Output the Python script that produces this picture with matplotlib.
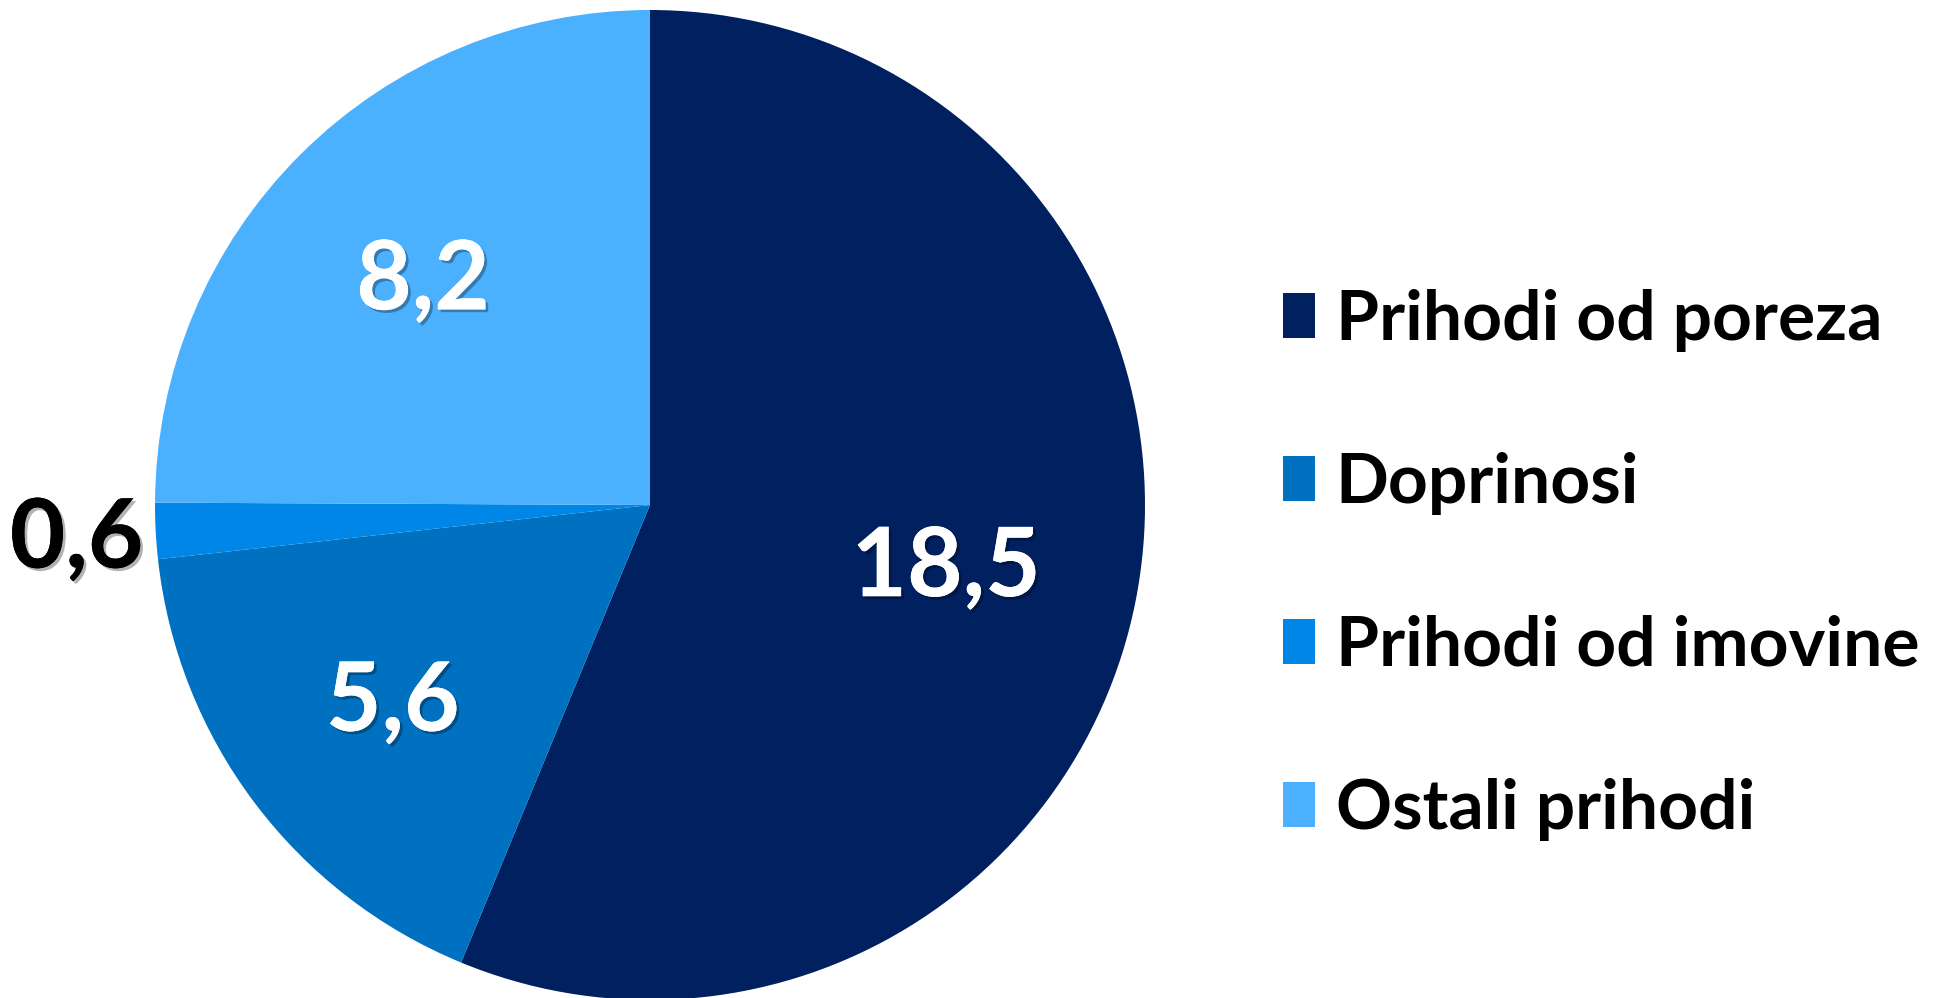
import numpy as np
import matplotlib
matplotlib.use("Agg")
import matplotlib.pyplot as plt
import matplotlib.patheffects as pe

# ---------------------------------------------------------------------------
# Data
# ---------------------------------------------------------------------------
categories = ["Prihodi od poreza", "Doprinosi", "Prihodi od imovine", "Ostali prihodi"]
values = [18.5, 5.6, 0.6, 8.2]
value_labels = ["18,5", "5,6", "0,6", "8,2"]
colors = ["#002060", "#0070C0", "#0086E6", "#4BB1FF"]

# label placement (fraction of radius) and text colour per slice
label_dist = [0.61, 0.65, 1.16, 0.65]
label_colors = ["white", "white", "black", "white"]

plt.rcParams["font.family"] = ["Lato", "DejaVu Sans"]

W, H = 1941, 998
fig = plt.figure(figsize=(W / 100, H / 100), dpi=100)

# pie centre (650, 505) px, radius 495 px
cx, cy, r = 650, 505, 495
ax = fig.add_axes([(cx - r) / W, (H - cy - r) / H, 2 * r / W, 2 * r / H])

wedges, _ = ax.pie(values, colors=colors, startangle=90, counterclock=False,
                   radius=1, wedgeprops=dict(linewidth=0))
ax.set_xlim(-1, 1)
ax.set_ylim(-1, 1)
ax.set_aspect("equal")
ax.axis("off")

shadow = [pe.withSimplePatchShadow(offset=(2, -2), shadow_rgbFace="black", alpha=0.3),
          pe.Normal()]
for w, lab, d, col in zip(wedges, value_labels, label_dist, label_colors):
    mid = np.deg2rad((w.theta1 + w.theta2) / 2)
    ax.text(d * np.cos(mid), d * np.sin(mid) - 0.01, lab, ha="center", va="center",
            fontsize=69, fontweight="bold", color=col, path_effects=shadow,
            clip_on=False)

fig.legend(wedges, categories, loc="center left", bbox_to_anchor=(1283 / W, 1 - 565 / H),
           frameon=False, handlelength=0.46, handleheight=0.6, borderpad=0,
           borderaxespad=0, handletextpad=0.3, labelspacing=1.44,
           prop=dict(family=["Lato", "DejaVu Sans"], weight="bold", size=50))

fig.savefig("out.png", dpi=100)
